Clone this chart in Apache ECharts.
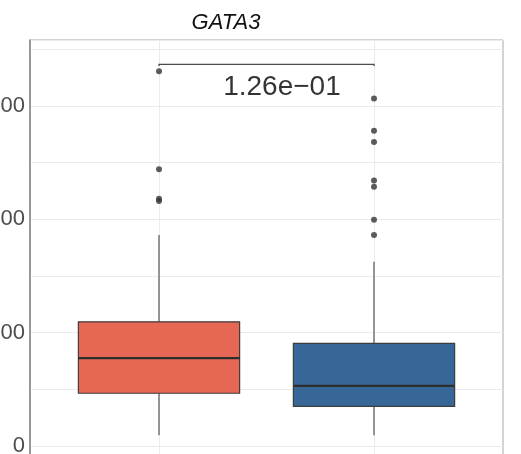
<!DOCTYPE html>
<html>
<head>
<meta charset="utf-8">
<script src="https://cdn.jsdelivr.net/npm/echarts@6/dist/echarts.min.js"></script>
<style>html,body{margin:0;padding:0;background:#fff}#c{width:521px;height:454px}</style>
</head>
<body>
<div id="c"></div>
<script>
// ---- data ----
const titleText = 'GATA3';
const categories = ['Group A', 'Group B'];
const groupX = [1, 2];
const lows = [19, 19];
const q1s = [93, 70];
const medians = [155, 106];
const q3s = [219, 181];
const highs = [372, 325];
const outliersA = [661, 488, 436, 432];
const outliersB = [613, 556, 536, 468, 457, 399, 372];
const boxColors = ['#E66753', '#366796'];
const yTickLabels = [0, 200, 400, 600];
const pValueText = ['1.26e\u221201'];
const bracketY = [670, 673];
const pValuePos = [1.572, 633];

// ---- build ----
const boxData = groupX.map((x, i) => [x, lows[i], q1s[i], medians[i], q3s[i], highs[i]]);
const outA = outliersA.map(v => [groupX[0], v]);
const outB = outliersB.map(v => [groupX[1], v]);
const bracketData = [[groupX[0], groupX[1], bracketY[0], bracketY[1]]];

const chart = echarts.init(document.getElementById('c'), null, {renderer: 'canvas'});
chart.setOption({
  animation: false,
  backgroundColor: '#fff',
  graphic: [{
    type: 'text', x: 226, y: 23,
    style: {text: titleText, textAlign: 'center', textVerticalAlign: 'middle',
      font: 'italic 22px "Liberation Sans Narrow", "Liberation Sans", Arial', fill: '#111'}
  }],
  grid: {left: 30, right: 18, top: 40, bottom: -48.7, show: true, borderColor: '#a8a8a8', borderWidth: 1,
    containLabel: false, outerBoundsMode: 'none'},
  xAxis: {
    type: 'value', min: 0.4, max: 2.6,
    axisLine: {show: false}, axisTick: {show: false}, axisLabel: {show: false}, splitLine: {show: false}
  },
  yAxis: {
    type: 'value', min: -100, max: 716, interval: 100,
    axisLine: {show: true, lineStyle: {color: '#858585', width: 1.5}},
    axisTick: {show: false},
    axisLabel: {
      margin: 5, fontSize: 22, color: '#4d4d4d', fontFamily: '"Liberation Sans", Arial',
      formatter: v => (yTickLabels.indexOf(v) >= 0 ? String(v) : '')
    },
    splitLine: {show: true, lineStyle: {color: '#ebebeb', width: 1}}
  },
  series: [
    {
      type: 'line', data: [], silent: true, z: 1,
      markLine: {silent: true, z: 1, symbol: 'none', label: {show: false}, animation: false,
        lineStyle: {color: '#ebebeb', type: 'solid', width: 1},
        data: groupX.map(x => ({xAxis: x}))}
    },
    {
      type: 'custom', z: 3,
      data: boxData,
      encode: {x: 0, y: [1, 2, 3, 4, 5]},
      renderItem: function (params, api) {
        const x = api.value(0);
        const pLow = api.coord([x, api.value(1)]);
        const pQ1 = api.coord([x, api.value(2)]);
        const pMed = api.coord([x, api.value(3)]);
        const pQ3 = api.coord([x, api.value(4)]);
        const pHigh = api.coord([x, api.value(5)]);
        const half = api.size([0.75, 0])[0] / 2;
        const cx = pMed[0];
        return {
          type: 'group',
          children: [
            {type: 'line', shape: {x1: cx, y1: pQ3[1], x2: cx, y2: pHigh[1]}, style: {stroke: '#8a8a8a', lineWidth: 1.8}},
            {type: 'line', shape: {x1: cx, y1: pQ1[1], x2: cx, y2: pLow[1]}, style: {stroke: '#8a8a8a', lineWidth: 1.8}},
            {type: 'rect', shape: {x: cx - half, y: pQ3[1], width: half * 2, height: pQ1[1] - pQ3[1]},
              style: {fill: boxColors[params.dataIndex], stroke: '#3d3d3d', lineWidth: 1.2}},
            {type: 'line', shape: {x1: cx - half, y1: pMed[1], x2: cx + half, y2: pMed[1]}, style: {stroke: '#2e2e2e', lineWidth: 2.2}}
          ]
        };
      }
    },
    {type: 'scatter', data: outA, symbolSize: 6, itemStyle: {color: '#333'}, z: 4, silent: true},
    {type: 'scatter', data: outB, symbolSize: 6, itemStyle: {color: '#333'}, z: 4, silent: true},
    {
      type: 'custom', z: 4, silent: true,
      data: bracketData,
      encode: {x: [0, 1], y: [2, 3]},
      renderItem: function (params, api) {
        const a = api.coord([api.value(0), api.value(2)]);
        const b = api.coord([api.value(0), api.value(3)]);
        const c = api.coord([api.value(1), api.value(3)]);
        const d = api.coord([api.value(1), api.value(2)]);
        return {type: 'polyline', shape: {points: [a, b, c, d]},
          style: {stroke: '#4d4d4d', lineWidth: 1.3, fill: null}};
      }
    },
    {type: 'scatter', data: [pValuePos], symbolSize: 0, silent: true, z: 5,
      label: {show: true, position: 'inside', formatter: () => pValueText[0],
        fontSize: 28, color: '#000', fontFamily: '"Liberation Sans", Arial'}}
  ]
});
</script>
</body>
</html>
